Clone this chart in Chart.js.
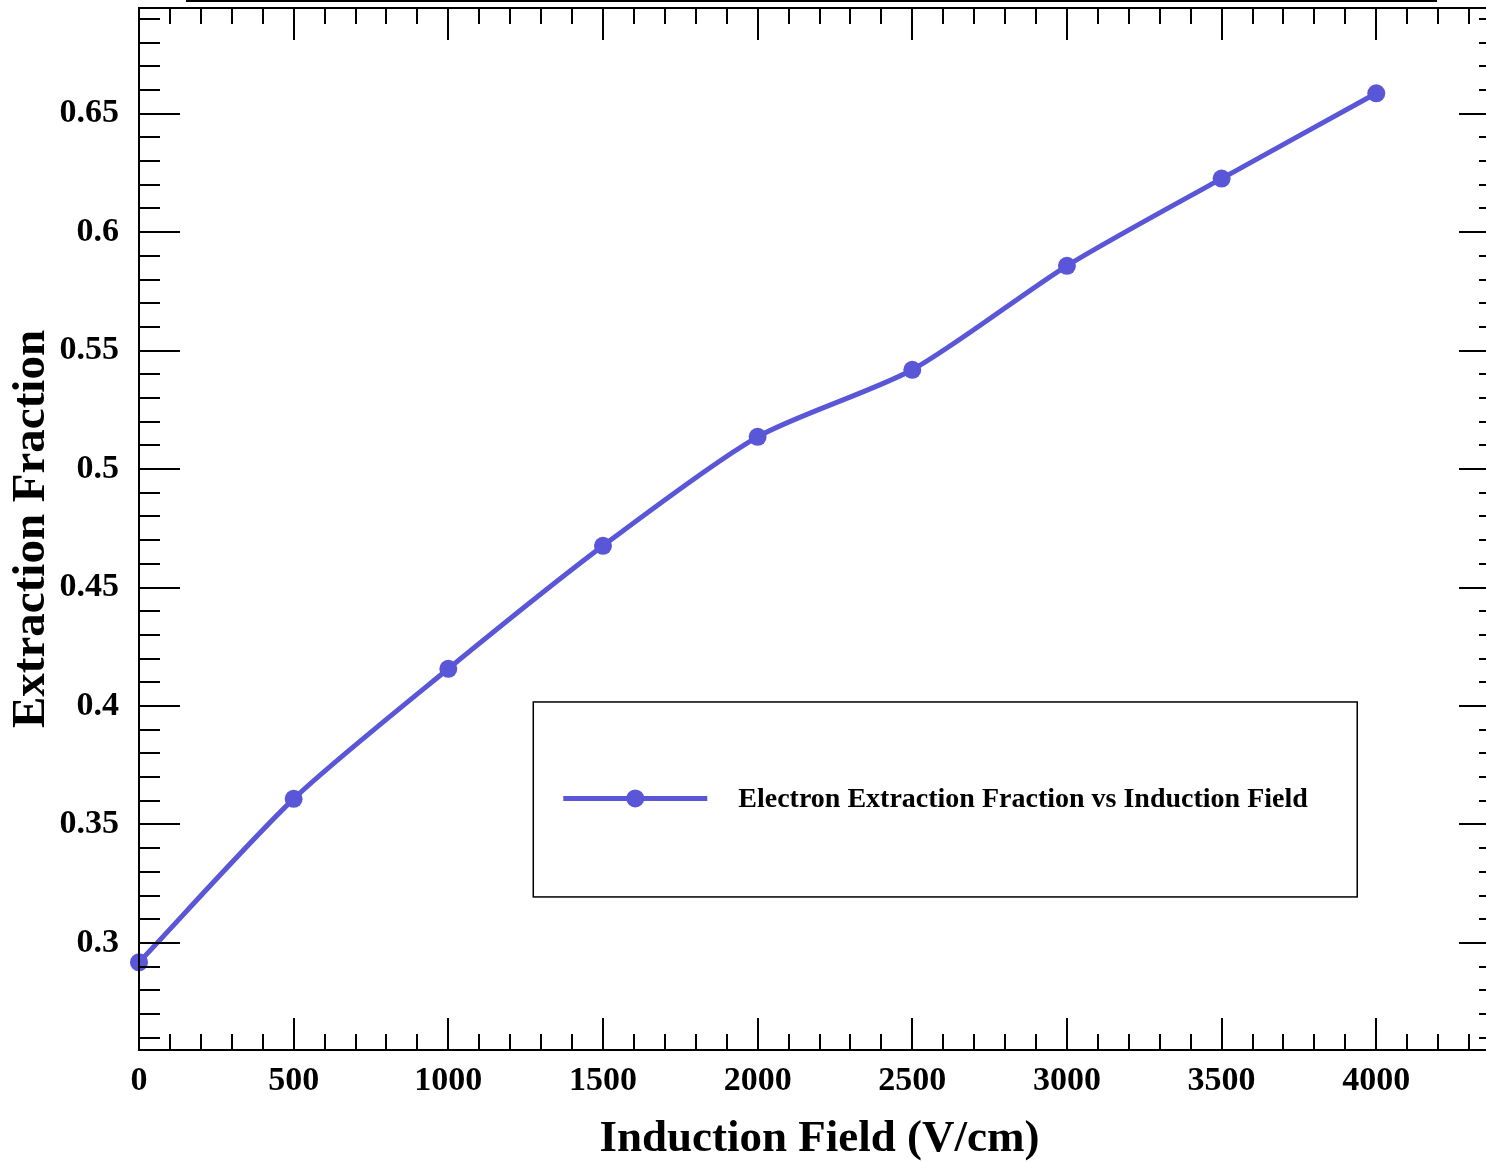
<!DOCTYPE html>
<html>
<head>
<meta charset="utf-8">
<script src="https://cdn.jsdelivr.net/npm/chart.js@4/dist/chart.umd.min.js"></script>
<style>
  html, body { margin: 0; padding: 0; background: #fff; overflow: hidden; }
  #wrap { width: 1520px; height: 1162px; position: relative; }
</style>
</head>
<body>
<div id="wrap"><canvas id="extractionChart"></canvas></div>
<script>
// values
const inductionField = [0, 500, 1000, 1500, 2000, 2500, 3000, 3500, 4000];
const extractionFraction = [0.2918, 0.3608, 0.4157, 0.4676, 0.5136, 0.5419, 0.5858, 0.6226, 0.6586];
const seriesLabel = "Electron Extraction Fraction vs Induction Field";
const xTicks = [0, 500, 1000, 1500, 2000, 2500, 3000, 3500, 4000];
const yTicks = [0.3, 0.35, 0.4, 0.45, 0.5, 0.55, 0.6, 0.65];
const xRange = [0, 4400];
const yRange = [0.2548, 0.6946];
const xMinor = 100;
const yMinor = 0.01;

const lineColor = "#5a56d8";
const serif = "'Liberation Serif', 'DejaVu Serif', serif";

// ROOT-like frame, inward ticks and legend box
const rootFrame = {
  id: "rootFrame",
  afterDatasetsDraw(chart) {
    const ctx = chart.ctx;
    const a = chart.chartArea;
    const xs = chart.scales.x, ys = chart.scales.y;
    ctx.save();
    ctx.strokeStyle = "#000";
    ctx.lineWidth = 2;

    // title pave cut off at the top of the picture
    ctx.strokeRect(187, -10, 1249, 11);

    ctx.strokeRect(a.left, a.top, a.right - a.left, a.bottom - a.top);

    ctx.beginPath();
    const nx = Math.round((xRange[1] - xRange[0]) / xMinor);
    for (let i = 0; i <= nx; i++) {
      const v = xRange[0] + i * xMinor;
      const px = Math.round(xs.getPixelForValue(v));
      const major = xTicks.includes(v) || i % 5 === 0;
      const len = major ? 32 : 16;
      ctx.moveTo(px, a.bottom); ctx.lineTo(px, a.bottom - len);
      ctx.moveTo(px, a.top); ctx.lineTo(px, a.top + len);
    }
    const ny = Math.ceil((yRange[1] - 0.25) / yMinor);
    for (let i = 0; i <= ny; i++) {
      const v = 0.25 + i * yMinor;
      if (v < yRange[0] || v > yRange[1]) continue;
      const py = Math.round(ys.getPixelForValue(v));
      const major = i % 5 === 0;
      const len = major ? 41 : 21;
      ctx.moveTo(a.left, py); ctx.lineTo(a.left + len, py);
      ctx.moveTo(a.right, py); ctx.lineTo(a.right - len, py);
    }
    ctx.stroke();

    // legend
    const w = a.right - a.left, h = a.bottom - a.top;
    const bx = a.left + 0.2897 * w, by = a.top + 0.6660 * h;
    const bw = 0.6054 * w, bh = 0.1871 * h;
    ctx.lineWidth = 1.5;
    ctx.strokeRect(bx, by, bw, bh);
    const ly = by + bh * 0.495;
    const lx0 = bx + 30, lx1 = bx + 174;
    ctx.strokeStyle = lineColor;
    ctx.lineWidth = 5;
    ctx.beginPath();
    ctx.moveTo(lx0, ly); ctx.lineTo(lx1, ly);
    ctx.stroke();
    ctx.fillStyle = lineColor;
    ctx.beginPath();
    ctx.arc((lx0 + lx1) / 2, ly, 9, 0, Math.PI * 2);
    ctx.fill();
    ctx.fillStyle = "#000";
    ctx.font = "bold 28px " + serif;
    ctx.textBaseline = "middle";
    ctx.textAlign = "left";
    ctx.fillText(seriesLabel, bx + 205, ly + 1);
    ctx.restore();
  }
};

const chartCtx = document.getElementById("extractionChart").getContext("2d");

new Chart(chartCtx, {
  type: "line",
  data: {
    datasets: [
      {
        label: seriesLabel,
        data: inductionField.map((x, i) => ({ x: x, y: extractionFraction[i] })),
        borderColor: lineColor,
        backgroundColor: lineColor,
        borderWidth: 5,
        pointRadius: 9,
        pointHoverRadius: 9,
        pointBorderWidth: 0,
        tension: 0.25,
        clip: false,
      },
    ],
  },
  options: {
    responsive: true,
    maintainAspectRatio: false,
    animation: false,
    layout: { autoPadding: false, padding: { left: 0, top: 8, right: 20, bottom: 0 } },
    plugins: {
      legend: { display: false },
      tooltip: { enabled: false },
    },
    scales: {
      x: {
        type: "linear",
        min: xRange[0],
        max: xRange[1],
        border: { display: false },
        grid: { display: false, drawTicks: false },
        afterFit(scale) {
          scale.height = 112;
          scale.paddingLeft = 0;
          scale.paddingRight = 0;
        },
        afterBuildTicks(scale) { scale.ticks = xTicks.map((v) => ({ value: v })); },
        ticks: {
          autoSkip: false,
          padding: 11,
          color: "#000",
          font: { family: serif, size: 34, weight: "bold" },
          maxRotation: 0,
          callback: (v) => String(v),
        },
        title: {
          display: true,
          text: "Induction Field (V/cm)",
          color: "#000",
          font: { family: serif, size: 45, weight: "bold", lineHeight: 1 },
          padding: { top: 0, bottom: 0 },
        },
      },
      y: {
        type: "linear",
        min: yRange[0],
        max: yRange[1],
        border: { display: false },
        grid: { display: false, drawTicks: false },
        afterFit(scale) {
          scale.width = 139;
          scale.paddingTop = 0;
          scale.paddingBottom = 0;
        },
        afterBuildTicks(scale) { scale.ticks = yTicks.map((v) => ({ value: v })); },
        ticks: {
          autoSkip: false,
          padding: 20,
          color: "#000",
          font: { family: serif, size: 34, weight: "bold" },
          callback: (v) => String(+v.toFixed(2)),
        },
        title: {
          display: true,
          text: "Extraction Fraction",
          color: "#000",
          font: { family: serif, size: 47, weight: "bold", lineHeight: 1 },
          padding: { top: 8, bottom: 0 },
        },
      },
    },
  },
  plugins: [rootFrame],
});
</script>
</body>
</html>
